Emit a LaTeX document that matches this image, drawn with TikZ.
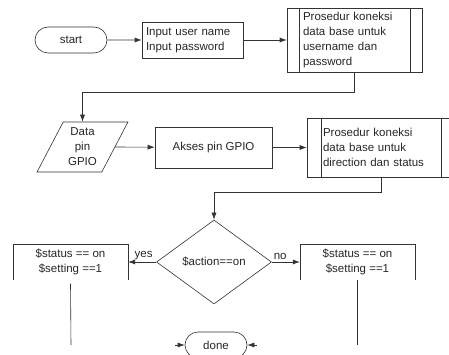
\documentclass[tikz,border=0pt]{standalone}
\usepackage{fontspec}
\setmainfont{Liberation Sans}
\usetikzlibrary{arrows.meta, shapes.geometric, shapes.misc}

\begin{document}
\begin{tikzpicture}[x=1pt, y=-1pt,
		every node/.style={font=\fontsize{11.5}{15}\selectfont, text=black!85},
		line/.style={draw=black!80, line width=0.6pt},
		arr/.style={line, -{Latex[length=7pt,width=5pt]}},
		terminal/.style={line, rounded rectangle, minimum height=26pt, inner sep=0pt},
		process/.style={line, rectangle, inner sep=3pt},
		predef/.style={process, align=left, inner xsep=16pt,
			path picture={
				\draw[line] ([xshift=#1]path picture bounding box.north west) -- ([xshift=#1]path picture bounding box.south west);
				\draw[line] ([xshift=-#1]path picture bounding box.north east) -- ([xshift=-#1]path picture bounding box.south east);
		}},
		openbox/.style={minimum width=115pt, minimum height=35pt, align=center, inner sep=0pt}]
			\clip (0,0) rectangle (449,355);
			% login
			\node[terminal, minimum width=72pt] (start) at (71,40) {start};
			\node[process, align=left, inner xsep=4pt, text width=93pt, minimum height=36pt] (input) at (192.5,40) {Input user name\\Input password};
			\node[predef=12pt, text width=103pt, minimum height=64pt] (proc1) at (354.5,40) {Prosedur koneksi\\data base untuk\\username dan\\password};
			\draw[arr] (start) -- (input);
			\draw[arr] (input) -- (proc1);
			% gpio
			\node[line, trapezium, trapezium left angle=62.5, trapezium right angle=117.5, trapezium stretches=true,
				minimum width=91pt, minimum height=50pt, inner sep=1pt, align=center] (data) at (82.5,147) {Data\\pin\\GPIO};
			\node[process, minimum width=117pt, minimum height=41pt] (akses) at (213.5,147.5) {Akses pin GPIO};
			\node[predef=14pt, text width=116pt, minimum height=59pt] (proc2) at (381,147.5) {Prosedur koneksi\\data base untuk\\direction dan status};
			\draw[arr] (proc1.south) -- ++(0,20) -| (data.north);
			\draw[arr] (data.east) -- (akses);
			\draw[arr] (akses) -- (proc2);
			% keputusan
			\node[line, diamond, minimum width=115pt, minimum height=84pt, inner sep=0pt] (action) at (214,262) {\$action==on};
			\draw[arr] (proc2.south) -- ++(0,15) -| (action.north);
			\node[openbox] (yesbox) at (70.5,262) {\$status == on\\\$setting ==1};
			\node[openbox] (nobox) at (357.5,262) {\$status == on\\\$setting ==1};
			\draw[line] (yesbox.south west) |- (yesbox.north east) -- (yesbox.south east);
			\draw[line] (nobox.south west) |- (nobox.north east) -- (nobox.south east);
			\draw[arr] (action.west) -- node[above, pos=0.45, inner sep=2pt] {yes} (yesbox.east);
			\draw[arr] (action.east) -- node[above, pos=0.3, inner sep=2pt] {no} (nobox.east -| nobox.west);
			\coordinate (endyes) at (71,345);
			\coordinate (endno) at (357.5,345);
			\draw[line] ([yshift=-4pt]yesbox.south) -- (endyes);
			\draw[line] (nobox.south) -- (endno);
			% selesai
			\node[terminal, minimum width=62pt] (done) at (216,345) {done};
			\coordinate (inl) at (175,345);
			\coordinate (inr) at (257,345);
			\draw[arr] (inl) -- (done.west);
			\draw[arr] (inr) -- (done.east);
		\end{tikzpicture}
\end{document}
